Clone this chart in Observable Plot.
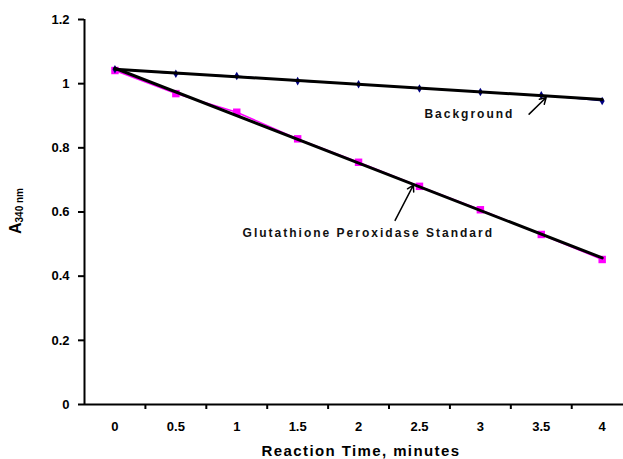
<!DOCTYPE html>
<html>
<head>
<meta charset="utf-8">
<script src="https://cdn.jsdelivr.net/npm/d3@7"></script>
<script src="https://cdn.jsdelivr.net/npm/@observablehq/plot@0.6"></script>
<style>
  html, body { margin: 0; padding: 0; background: #fff; }
  #chart svg { display: block; }
</style>
</head>
<body>
<div id="chart"></div>
<script>
// Data
const times = [0, 0.5, 1, 1.5, 2, 2.5, 3, 3.5, 4];
const background = [1.045, 1.031, 1.024, 1.008, 0.998, 0.985, 0.974, 0.964, 0.946];
const standard = [1.041, 0.969, 0.911, 0.828, 0.755, 0.680, 0.607, 0.530, 0.452];
const trendX = [0, 4];
const backgroundTrend = [1.045, 0.951];
const standardTrend = [1.048, 0.457];
const xTickMarks = [0.25, 0.75, 1.25, 1.75, 2.25, 2.75, 3.25, 3.75];
const xTickLabels = [0, 0.5, 1, 1.5, 2, 2.5, 3, 3.5, 4];
const yTicks = [0, 0.2, 0.4, 0.6, 0.8, 1, 1.2];
const labels = [
  {text: "Background", x: 2.91, y: 0.905, ax1: 3.40, ay1: 0.905, ax2: 3.54, ay2: 0.957},
  {text: "Glutathione Peroxidase Standard", x: 2.08, y: 0.535, ax1: 2.30, ay1: 0.574, ax2: 2.45, ay2: 0.684}
];

const bgData = times.map((t, i) => ({t, v: background[i]}));
const stdData = times.map((t, i) => ({t, v: standard[i]}));
const bgTrendData = trendX.map((t, i) => ({t, v: backgroundTrend[i]}));
const stdTrendData = trendX.map((t, i) => ({t, v: standardTrend[i]}));

const font = "'Liberation Sans', Arial, sans-serif";

const plot = Plot.plot({
  width: 623,
  height: 459,
  marginLeft: 84,
  marginRight: 0,
  marginTop: 19,
  marginBottom: 55,
  style: {fontFamily: font, background: "#fff"},
  x: {domain: [-0.25, 4.175], label: null},
  y: {domain: [0, 1.2], label: null},
  marks: [
    // series
    Plot.line(stdData, {x: "t", y: "v", stroke: "#ff00ff", strokeWidth: 1.5}),
    Plot.dot(stdData, {x: "t", y: "v", symbol: "square", r: 4.2, fill: "#ff00ff", stroke: "none"}),
    Plot.line(bgData, {x: "t", y: "v", stroke: "#000080", strokeWidth: 1}),
    Plot.dot(bgData, {x: "t", y: "v", symbol: "diamond", r: 2.6, fill: "#000080", stroke: "none"}),
    // trend lines
    Plot.line(bgTrendData, {x: "t", y: "v", stroke: "#000", strokeWidth: 3}),
    Plot.line(stdTrendData, {x: "t", y: "v", stroke: "#000", strokeWidth: 3}),
    // axes
    Plot.ruleY([0], {stroke: "#000", strokeWidth: 2}),
    Plot.ruleX([-0.25], {y1: 0, y2: 1.2, stroke: "#000", strokeWidth: 2}),
    Plot.axisY({ticks: yTicks, tickSize: 6, tickPadding: 9, tickFormat: d => String(d),
      fontSize: 13, fontWeight: "bold", strokeWidth: 2, label: null}),
    Plot.axisX({ticks: xTickMarks, tickSize: 5, tickFormat: () => "", strokeWidth: 2, label: null}),
    Plot.axisX({ticks: xTickLabels, tickSize: 0, tickPadding: 17, tickFormat: d => String(d),
      fontSize: 13, fontWeight: "bold", label: null}),
    // annotations
    Plot.arrow(labels, {x1: "ax1", y1: "ay1", x2: "ax2", y2: "ay2", stroke: "#000", strokeWidth: 1.5, headLength: 7}),
    Plot.text(labels, {x: "x", y: "y", text: "text", fontSize: 12, fontWeight: "bold", fill: "#111",
      textAnchor: "middle"})
  ]
});

const svg = d3.select(plot);
// letter spacing for annotation labels
svg.selectAll("text").filter(function() { return this.textContent === "Background" || this.textContent === "Glutathione Peroxidase Standard"; })
  .style("letter-spacing", "2px");

// x-axis title
svg.append("text")
  .attr("x", 361)
  .attr("y", 456)
  .attr("text-anchor", "middle")
  .attr("font-family", font)
  .attr("font-weight", "bold")
  .attr("font-size", 15)
  .style("letter-spacing", "1.4px")
  .text("Reaction Time, minutes");

// y-axis title with subscript
const yt = svg.append("text")
  .attr("transform", "translate(21,211) rotate(-90)")
  .attr("text-anchor", "middle")
  .attr("font-family", font)
  .attr("font-weight", "bold")
  .attr("font-size", 16);
yt.append("tspan").text("A");
yt.append("tspan").attr("font-size", 10).attr("dy", 2).text("340 nm");

document.getElementById("chart").appendChild(plot);
</script>
</body>
</html>
